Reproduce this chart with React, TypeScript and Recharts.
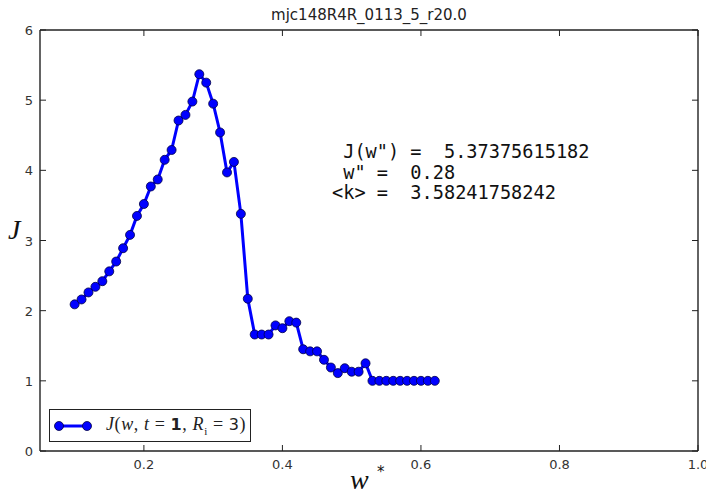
import React from 'react';
import { LineChart, Line, XAxis, YAxis, Legend, Customized } from 'recharts';

const wValues = [
  0.10, 0.11, 0.12, 0.13, 0.14, 0.15, 0.16, 0.17, 0.18, 0.19,
  0.20, 0.21, 0.22, 0.23, 0.24, 0.25, 0.26, 0.27, 0.28, 0.29,
  0.30, 0.31, 0.32, 0.33, 0.34, 0.35, 0.36, 0.37, 0.38, 0.39,
  0.40, 0.41, 0.42, 0.43, 0.44, 0.45, 0.46, 0.47, 0.48, 0.49,
  0.50, 0.51, 0.52, 0.53, 0.54, 0.55, 0.56, 0.57, 0.58, 0.59,
  0.60, 0.61, 0.62,
];
const jValues = [
  2.09, 2.16, 2.26, 2.34, 2.42, 2.56, 2.70, 2.89, 3.08, 3.35,
  3.52, 3.77, 3.87, 4.15, 4.29, 4.71, 4.79, 4.98, 5.37, 5.25,
  4.95, 4.54, 3.97, 4.12, 3.38, 2.17, 1.66, 1.66, 1.66, 1.79,
  1.75, 1.85, 1.83, 1.45, 1.42, 1.42, 1.30, 1.19, 1.11, 1.18,
  1.13, 1.13, 1.25, 1.0, 1.0, 1.0, 1.0, 1.0, 1.0, 1.0,
  1.0, 1.0, 1.0,
];
const xTicks = [0.2, 0.4, 0.6, 0.8, 1.0];
const yTicks = [0, 1, 2, 3, 4, 5, 6];
const titleText = 'mjc148R4R_0113_5_r20.0';
const annotationLines = [' J(w") =  5.37375615182', ' w" =  0.28', '<k> =  3.58241758242'];

const data = wValues.map((w, i) => ({ w, J: jValues[i] }));

const AXIS = '#222';
const TICK_LEN = 6;
const tickFont = { fontFamily: 'DejaVu Sans', fontSize: 13, fill: '#333' };

const BottomTick = (p: any) => (
  <g>
    <line x1={p.x} x2={p.x} y1={p.y} y2={p.y - TICK_LEN} stroke={AXIS} strokeWidth={1} />
    <text x={p.x} y={p.y + 18} textAnchor="middle" {...tickFont}>
      {Number(p.payload.value).toFixed(1)}
    </text>
  </g>
);
const TopTick = (p: any) => (
  <line x1={p.x} x2={p.x} y1={p.y} y2={p.y + TICK_LEN} stroke={AXIS} strokeWidth={1} />
);
const LeftTick = (p: any) => (
  <g>
    <line x1={p.x} x2={p.x + TICK_LEN} y1={p.y} y2={p.y} stroke={AXIS} strokeWidth={1} />
    <text x={p.x - 7} y={p.y + 5} textAnchor="end" {...tickFont}>
      {p.payload.value}
    </text>
  </g>
);
const RightTick = (p: any) => (
  <line x1={p.x} x2={p.x - TICK_LEN} y1={p.y} y2={p.y} stroke={AXIS} strokeWidth={1} />
);

const LegendBox = () => (
  <div
    style={{
      width: 202,
      height: 33,
      border: `1.4px solid ${AXIS}`,
      background: '#fff',
      boxSizing: 'border-box',
      display: 'flex',
      alignItems: 'center',
    }}
  >
    <svg width={56} height={30} style={{ display: 'block', flex: 'none' }}>
      <line x1={9} x2={37} y1={15} y2={15} stroke="#0000ff" strokeWidth={3} />
      <circle cx={9} cy={15} r={4.5} fill="#0000ff" stroke="#000044" strokeWidth={0.8} />
      <circle cx={37} cy={15} r={4.5} fill="#0000ff" stroke="#000044" strokeWidth={0.8} />
    </svg>
    <span style={{ fontFamily: 'Liberation Serif', fontSize: 18, color: '#222', whiteSpace: 'pre', letterSpacing: 0.6 }}>
      <i>J</i>(<i>w</i>, <i>t</i> = <b style={{ fontFamily: 'DejaVu Sans', fontSize: 16 }}>1</b>, <i>R</i>
      <sub style={{ fontSize: 11 }}>i</sub> = <span style={{ fontFamily: 'DejaVu Sans', fontSize: 16 }}>3</span>)
    </span>
  </div>
);

const Texts = () => (
  <g>
    <text x={369} y={20} textAnchor="middle" fontFamily="DejaVu Sans" fontSize={15} fill="#222">
      {titleText}
    </text>
    <text x={8} y={239} fontFamily="Liberation Serif" fontStyle="italic" fontSize={28} fill="#111">
      J
    </text>
    <text x={350} y={489} fontFamily="Liberation Serif" fontStyle="italic" fontSize={28} fill="#111">
      w
    </text>
    <text x={377} y={477} fontFamily="DejaVu Sans" fontSize={15} fill="#111">
      *
    </text>
    {annotationLines.map((t, i) => (
      <text
        key={i}
        x={332}
        y={158 + i * 20.5}
        fontFamily="DejaVu Sans Mono"
        fontSize={18.6}
        fill="#111"
        style={{ whiteSpace: 'pre' }}
      >
        {t}
      </text>
    ))}
  </g>
);

export default function App() {
  return (
    <div style={{ position: 'absolute', left: 0, top: 0, width: 706, height: 496, background: '#fff' }}>
      <LineChart width={706} height={496} data={data} margin={{ top: 29, right: 7, bottom: 0, left: 0 }}>
        <XAxis
          dataKey="w"
          type="number"
          domain={[0.05, 1.0]}
          allowDataOverflow
          ticks={xTicks}
          interval={0}
          height={45}
          tickSize={0}
          tickMargin={0}
          tick={<BottomTick />}
          axisLine={{ stroke: AXIS, strokeWidth: 1.4 }}
          tickLine={false}
        />
        <XAxis
          xAxisId="top"
          orientation="top"
          dataKey="w"
          type="number"
          domain={[0.05, 1.0]}
          allowDataOverflow
          ticks={xTicks}
          interval={0}
          height={1}
          tickSize={0}
          tickMargin={0}
          tick={<TopTick />}
          axisLine={{ stroke: AXIS, strokeWidth: 1.4 }}
          tickLine={false}
        />
        <YAxis
          type="number"
          domain={[0, 6]}
          allowDataOverflow
          ticks={yTicks}
          interval={0}
          width={40}
          tickSize={0}
          tickMargin={0}
          tick={<LeftTick />}
          axisLine={{ stroke: AXIS, strokeWidth: 1.4 }}
          tickLine={false}
        />
        <YAxis
          yAxisId="right"
          orientation="right"
          type="number"
          domain={[0, 6]}
          allowDataOverflow
          ticks={yTicks}
          interval={0}
          width={1}
          tickSize={0}
          tickMargin={0}
          tick={<RightTick />}
          axisLine={{ stroke: AXIS, strokeWidth: 1.4 }}
          tickLine={false}
        />
        <Line
          xAxisId="top"
          yAxisId="right"
          dataKey="J"
          stroke="none"
          strokeOpacity={0}
          dot={false}
          activeDot={false}
          legendType="none"
          isAnimationActive={false}
        />
        <Line
          dataKey="J"
          stroke="#0000ff"
          strokeWidth={3}
          dot={{ r: 4.5, fill: '#0000ff', stroke: '#000044', strokeWidth: 0.8 }}
          activeDot={false}
          isAnimationActive={false}
        />
        <Legend
          layout="horizontal"
          verticalAlign="middle"
          align="center"
          content={<LegendBox />}
          wrapperStyle={{ left: 49, top: 409, width: 202, height: 33 }}
        />
        <Customized component={<Texts />} />
      </LineChart>
    </div>
  );
}
